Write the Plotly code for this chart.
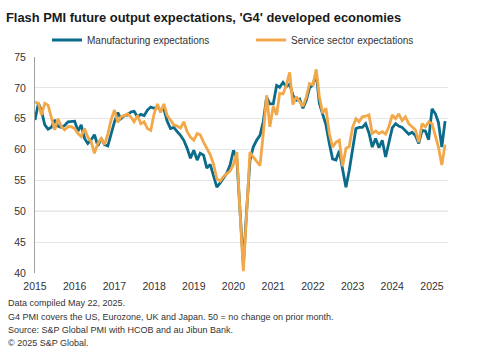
import plotly.graph_objects as go
import pandas as pd

# Monthly values, Jan 2015 - May 2025
manufacturing = [
    # 2015
    64.8, 67.5, 66.3, 64.0, 63.3, 63.6, 64.8, 63.8, 63.6, 63.9, 64.5, 64.6,
    # 2016
    64.6, 63.0, 64.0, 61.8, 61.0, 61.6, 62.4, 60.6, 61.8, 60.8, 60.6, 62.5,
    # 2017
    64.5, 66.0, 65.0, 65.5, 65.6, 66.1, 66.2, 65.3, 65.7, 65.5, 66.4, 66.9,
    # 2018
    66.7, 66.9, 66.4, 66.6, 64.6, 63.4, 63.6, 62.9, 62.3, 61.5, 60.2, 58.6,
    # 2019
    59.9, 58.3, 59.4, 59.1, 57.0, 57.6, 55.6, 53.9, 54.6, 55.4, 56.2, 57.5,
    # 2020
    59.9, 58.5, 50.0, 41.3, 50.0, 58.3, 60.4, 61.5, 62.3, 64.5, 68.5, 67.4,
    # 2021
    67.4, 70.4, 70.1, 70.9, 70.2, 70.6, 68.8, 68.0, 68.2, 66.7, 68.0, 70.0,
    # 2022
    70.5, 72.3, 67.5, 65.5, 64.0, 61.0, 58.5, 58.3, 59.8, 56.8, 53.9, 56.6,
    # 2023
    59.8, 63.4, 63.6, 63.6, 64.2, 62.7, 60.4, 61.8, 60.3, 61.5, 58.8, 61.0,
    # 2024
    63.5, 64.2, 63.8, 63.6, 63.1, 62.5, 62.8, 62.3, 61.0, 63.1, 63.0, 61.6,
    # 2025
    66.6, 65.8, 64.4, 60.4, 64.6,
]

services = [
    # 2015
    67.7, 67.5, 65.6, 67.5, 67.2, 65.0, 63.2, 65.0, 63.7, 63.2, 63.7, 63.7,
    # 2016
    63.4, 62.6, 62.1, 63.4, 62.0, 61.3, 59.4, 61.0, 61.8, 60.8, 62.5, 64.8,
    # 2017
    66.4, 64.4, 65.3, 65.5, 65.8, 65.3, 64.5, 65.5, 64.2, 64.5, 63.4, 63.1,
    # 2018
    65.8, 67.4, 66.0, 67.4, 65.5, 64.8, 64.0, 63.8, 63.5, 64.5, 62.9, 62.0,
    # 2019
    61.5, 62.6, 62.4, 61.2, 60.2, 59.2, 57.7, 55.3, 54.9, 55.6, 56.1, 56.5,
    # 2020
    57.6, 59.6, 50.0, 40.3, 49.5, 59.6, 58.8, 58.0, 57.4, 62.5, 68.8, 63.7,
    # 2021
    67.0, 65.6, 69.1, 69.0, 70.4, 72.5, 67.3, 68.6, 67.8, 67.0, 68.5, 70.7,
    # 2022
    70.5, 73.0, 68.6, 65.9, 66.7, 62.6, 60.4, 61.2, 61.5, 57.3, 60.2, 60.5,
    # 2023
    63.6, 65.0, 64.5, 65.3, 65.4, 65.6, 62.6, 63.0, 62.6, 62.9, 62.5, 63.7,
    # 2024
    65.6, 65.0, 65.8, 64.7, 65.3, 64.2, 63.7, 63.2, 61.2, 64.2, 63.7, 64.5,
    # 2025
    64.2, 62.0, 60.4, 57.5, 60.8,
]

months = pd.date_range("2015-01-01", periods=len(manufacturing), freq="MS")
year_labels = ["2015", "2016", "2017", "2018", "2019", "2020",
               "2021", "2022", "2023", "2024", "2025"]
year_ticks = [f"{y}-01-01" for y in year_labels]
y_ticks = [40, 45, 50, 55, 60, 65, 70, 75]

footnotes = [
    "Data compiled May 22, 2025.",
    "G4 PMI covers the US, Eurozone, UK and Japan. 50 = no change on prior month.",
    "Source: S&P Global PMI with HCOB and au Jibun Bank.",
    "\u00a9 2025 S&P Global.",
]

FONT = "Liberation Sans, Arial, sans-serif"
TEAL = "#0b6b8a"
ORANGE = "#f2a848"

fig = go.Figure()
fig.add_trace(go.Scatter(x=months, y=manufacturing, mode="lines",
                         name="Manufacturing expectations",
                         line=dict(color=TEAL, width=2.8)))
fig.add_trace(go.Scatter(x=months, y=services, mode="lines",
                         name="Service sector expectations",
                         line=dict(color=ORANGE, width=2.8)))

fig.add_hline(y=50, line=dict(color="#c4c4c4", width=1), layer="below")

W, H = 480, 359
L, R, T, B = 35, 32, 57, 86
pw, ph = W - L - R, H - T - B

def px_x(x):
    return (x - L) / pw

def px_y(y):
    return (H - B - y) / ph

annotations = []
for i, txt in enumerate(footnotes):
    annotations.append(dict(
        text=txt, xref="paper", yref="paper",
        x=px_x(6), y=px_y(303.3 + i * 13.2),
        xanchor="left", yanchor="middle", showarrow=False,
        font=dict(family=FONT, size=9, color="#333333"),
    ))

fig.update_layout(
    width=W, height=H, autosize=False,
    margin=dict(l=L, r=R, t=T, b=B, pad=0),
    paper_bgcolor="white", plot_bgcolor="white",
    font=dict(family=FONT, color="#333333"),
    title=dict(text="<b>Flash PMI future output expectations, 'G4' developed economies</b>",
               x=6 / W, xanchor="left", xref="container",
               y=1 - 17 / H, yanchor="middle", yref="container",
               font=dict(family=FONT, size=12.9, color="#1a1a1a")),
    legend=dict(orientation="h", x=px_x(47), xanchor="left",
                y=px_y(40), yanchor="middle",
                font=dict(family=FONT, size=10, color="#333333"),
                entrywidth=159, entrywidthmode="pixels",
                bgcolor="rgba(0,0,0,0)", tracegroupgap=0),
    xaxis=dict(type="date", range=["2015-01-01", "2025-05-28"],
               tickmode="array", tickvals=year_ticks, ticktext=year_labels,
               showgrid=False, zeroline=False, showline=False, ticks="",
               ticklabelstandoff=5,
               tickfont=dict(family=FONT, size=10.5, color="#333333")),
    yaxis=dict(range=[40, 75], tickmode="array", tickvals=y_ticks,
               showgrid=True, gridcolor="#e6e6e6", gridwidth=1,
               zeroline=False, showline=True, linecolor="#a0a0a0", linewidth=1,
               ticks="", ticklabelstandoff=6,
               tickfont=dict(family=FONT, size=10.5, color="#333333")),
    annotations=annotations,
    showlegend=True,
)

fig.write_html("out.html", config={"displayModeBar": False},
               post_script="document.body.style.margin='0';document.body.style.padding='0';")
